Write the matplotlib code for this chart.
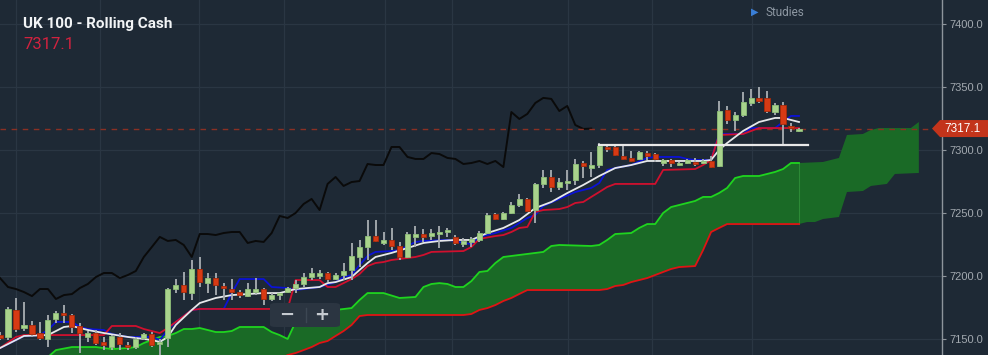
import matplotlib
matplotlib.use("Agg")
import matplotlib.pyplot as plt
from matplotlib.patches import Polygon, FancyBboxPatch
from matplotlib.transforms import blended_transform_factory
import numpy as np

# ---------------- data ----------------
opens = [7153.4,7151.9,7173.3,7159.0,7161.4,7155.0,7150.3,7166.1,7170.9,7169.3,
         7160.6,7151.9,7155.0,7147.9,7143.9,7151.9,7145.5,7143.9,7151.1,7154.2,
         7146.3,7151.1,7189.9,7193.1,7186.7,7205.8,7194.6,7198.6,7192.3,7189.9,
         7187.5,7184.3,7187.5,7189.9,7182.0,7185.1,7187.5,7190.7,7193.9,7199.4,
         7200.2,7202.6,7197.8,7201.0,7205.0,7215.3,7223.2,7231.9,7226.4,7228.8,
         7224.0,7215.3,7231.2,7233.5,7231.9,7233.5,7235.1,7231.2,7225.6,7227.2,
         7228.8,7234.3,7249.4,7245.4,7250.2,7256.5,7261.3,7252.5,7273.2,7278.7,
         7270.8,7274.0,7276.3,7289.8,7285.8,7288.2,7302.5,7302.5,7295.4,7293.8,
         7293.0,7297.7,7296.9,7289.8,7292.2,7288.2,7289.8,7290.6,7289.8,7291.4,
         7287.4,7331.8,7323.9,7327.9,7337.4,7341.4,7341.4,7330.2,7335.8,7319.1,
         7315.2]
highs = [7155.8,7175.6,7182.8,7179.6,7164.6,7163.8,7169.3,7172.5,7177.2,7170.1,
         7163.0,7156.6,7157.4,7151.9,7153.4,7155.0,7147.9,7151.9,7155.0,7155.8,
         7150.3,7190.7,7197.8,7203.4,7212.9,7215.3,7202.6,7202.6,7194.6,7197.8,
         7189.1,7194.6,7198.6,7190.7,7186.7,7186.7,7191.5,7197.0,7202.6,7206.6,
         7205.0,7203.4,7202.6,7210.5,7226.4,7228.8,7244.6,7244.6,7235.1,7238.3,
         7227.2,7235.1,7239.9,7237.5,7237.5,7239.9,7238.3,7232.7,7230.4,7231.2,
         7235.9,7250.2,7250.2,7251.0,7258.9,7265.2,7262.1,7274.0,7284.3,7284.3,
         7277.9,7284.3,7293.0,7291.4,7298.5,7305.6,7304.1,7303.3,7303.3,7299.3,
         7299.3,7299.3,7297.7,7293.0,7293.0,7290.6,7293.0,7293.8,7293.0,7295.4,
         7339.0,7335.0,7330.2,7346.1,7348.5,7350.0,7346.9,7337.4,7338.2,7321.5,
         7317.5]
lows = [7149.5,7149.5,7155.8,7156.6,7151.9,7149.5,7143.9,7163.0,7163.0,7155.0,
        7139.2,7147.9,7145.5,7141.5,7141.5,7141.5,7141.5,7142.3,7149.5,7143.9,
        7137.6,7143.9,7186.7,7181.2,7181.2,7191.5,7186.7,7185.1,7181.2,7181.2,
        7182.8,7183.6,7185.1,7177.2,7180.4,7181.2,7186.7,7186.7,7191.5,7197.0,
        7197.8,7195.4,7197.0,7197.0,7197.0,7207.3,7212.9,7227.2,7224.8,7220.8,
        7212.9,7214.5,7223.2,7227.2,7228.8,7222.4,7231.2,7224.8,7223.2,7223.2,
        7227.2,7233.5,7244.6,7244.6,7249.4,7254.9,7251.0,7242.2,7270.0,7266.8,
        7268.4,7268.4,7272.4,7277.9,7278.7,7285.8,7298.5,7295.4,7292.2,7290.6,
        7292.2,7292.2,7290.6,7287.4,7286.6,7287.4,7289.0,7287.4,7289.0,7285.8,
        7286.6,7320.7,7315.2,7326.3,7335.0,7337.4,7329.4,7327.9,7304.9,7314.4,
        7314.4]
closes = [7151.1,7174.1,7158.2,7161.4,7154.2,7151.1,7165.3,7170.9,7169.3,7159.8,
          7155.0,7155.0,7147.1,7145.5,7152.7,7146.3,7143.9,7150.3,7154.2,7145.5,
          7147.9,7189.9,7193.1,7187.5,7205.8,7195.4,7198.6,7193.1,7190.7,7187.5,
          7185.1,7189.9,7189.9,7182.0,7185.1,7185.5,7190.7,7193.9,7199.4,7202.6,
          7202.6,7197.8,7201.0,7204.2,7216.1,7223.2,7231.9,7228.0,7228.8,7224.0,
          7215.3,7233.5,7233.5,7231.2,7234.3,7235.1,7235.3,7226.4,7228.0,7229.6,
          7234.3,7248.6,7245.4,7250.2,7256.5,7261.3,7251.7,7273.2,7278.7,7270.8,
          7274.7,7275.5,7289.0,7287.4,7288.2,7303.3,7300.9,7296.1,7293.0,7291.4,
          7298.5,7295.4,7293.0,7292.2,7289.8,7289.8,7292.2,7289.0,7291.4,7286.6,
          7331.0,7323.9,7327.9,7338.2,7341.4,7339.0,7331.0,7335.8,7320.7,7317.5,
          7317.1]

# moving average (white)
white_idx = [0,3,6,8,9,11,13,16,19,20,21,22,24,25,27,29,31,33,35,37,40,41,42,44,45,46,47,49,51,53,
             55,57,59,61,63,65,67,69,71,73,75,77,79,81,88,89,90,91,93,95,97,98,100]
white_val = [7143.1,7152.7,7153.4,7159.8,7160.6,7157.4,7155.0,7151.9,7149.5,7147.9,
             7151.9,7161.4,7173.3,7178.8,7182.8,7185.1,7185.9,7186.7,7186.7,7189.9,
             7191.5,7194.6,7195.4,7199.4,7205.0,7210.5,7215.3,7218.5,7222.4,7226.4,
             7228.0,7228.8,7228.8,7234.3,7238.3,7244.6,7254.1,7258.9,7266.0,7272.4,
             7279.5,7285.8,7288.2,7291.4,7291.4,7292.2,7300.1,7305.6,7315.2,7322.3,
             7325.5,7325.5,7322.3]

# conversion line (blue)
tenkan_idx = [0,3,5,6,7,9,10,11,13,14,16,19,20,21,22,23,24,25,28,29,30,33,34,36,37,40,42,43,44,45,
              46,47,49,50,52,53,56,57,58,59,60,62,64,66,67,68,70,72,74,75,76,77,79,81,82,85,86,87,89,90,
              93,94,97,98,99,100]
tenkan_val = [7143.1,7152.7,7153.4,7157.4,7163.8,7163.8,7159.8,7158.2,7157.4,7154.2,
              7151.9,7151.9,7149.5,7157.4,7163.8,7168.5,7173.3,7174.1,7174.1,7186.7,
              7197.8,7197.8,7191.5,7190.7,7189.1,7191.5,7195.4,7199.4,7201.0,7208.9,
              7216.1,7219.3,7220.0,7220.8,7227.2,7228.0,7228.8,7228.0,7226.4,7225.6,
              7231.2,7234.3,7238.3,7246.2,7248.6,7255.7,7261.3,7266.8,7270.0,7273.9,
              7284.3,7285.8,7288.2,7293.8,7294.6,7294.6,7293.0,7292.2,7292.2,7312.8,
              7312.8,7317.5,7317.5,7322.3,7327.1,7327.1]

# base line (crimson)
kijun_idx = [0,2,3,13,14,17,18,19,20,21,22,23,24,25,36,37,40,41,42,43,44,45,46,47,48,49,50,51,52,53,
             54,58,59,60,62,63,64,65,66,67,68,70,71,72,73,74,75,76,77,82,83,87,88,89,90,93,95,100]
kijun_val = [7143.1,7151.9,7153.4,7153.4,7160.6,7160.6,7158.2,7156.6,7155.0,7159.0,
             7163.8,7168.5,7173.3,7174.1,7174.1,7197.0,7197.0,7191.5,7191.5,7194.6,
             7197.8,7201.8,7208.1,7210.5,7211.3,7212.9,7213.7,7214.5,7215.3,7216.9,
             7219.3,7220.0,7223.2,7229.6,7231.9,7232.7,7235.1,7238.3,7239.1,7251.0,
             7252.5,7253.3,7254.9,7258.1,7258.9,7262.9,7266.8,7270.8,7273.2,7273.2,
             7284.3,7285.0,7288.2,7292.2,7312.0,7312.8,7317.5,7317.5]

# lagging span (black), one value per candle from index 0
chikou = [7198.6,7191.5,7189.9,7187.5,7184.3,7189.9,7189.9,7182.0,7185.1,7185.9,
          7190.7,7193.9,7199.4,7202.6,7202.6,7198.6,7201.0,7204.2,7215.3,7223.2,
          7231.2,7228.0,7228.8,7224.8,7215.3,7233.5,7233.5,7232.7,7234.3,7235.1,
          7235.1,7226.4,7228.0,7227.2,7234.3,7247.8,7246.2,7250.2,7257.3,7261.3,
          7252.5,7273.2,7278.7,7271.6,7274.7,7275.5,7289.0,7288.2,7288.2,7302.5,
          7302.5,7294.6,7293.0,7293.0,7297.7,7296.9,7293.8,7293.0,7289.0,7289.8,
          7291.4,7289.0,7291.4,7286.6,7330.2,7324.7,7328.7,7337.4,7341.4,7340.6,
          7331.0,7335.0,7319.9,7316.8,7317.1]

# leading span A (green, cloud top) and leading span B (red, cloud bottom)
span_a_idx = [5,6,7,9,12,13,14,16,17,18,19,20,21,22,23,24,25,26,27,28,29,30,33,34,35,36,37,38,42,44,
              45,46,48,50,52,53,54,55,56,57,58,59,60,61,62,63,64,67,68,69,70,74,75,76,77,79,80,81,82,83,
              84,85,86,87,88,89,90,91,92,93,95,96,97,98,99,100,103,105,106,108,109,110,114,115]
span_a_val = [7133.0,7136.0,7141.5,7143.9,7143.9,7143.1,7142.3,7143.1,7143.9,7147.1,
              7149.5,7151.9,7152.7,7155.0,7158.2,7158.2,7159.0,7157.4,7155.8,7155.8,
              7156.6,7159.8,7159.8,7155.8,7153.4,7150.3,7163.8,7172.5,7173.3,7174.8,
              7181.2,7186.7,7186.7,7182.8,7183.6,7191.5,7193.9,7194.6,7193.9,7191.5,
              7191.5,7196.2,7203.4,7204.2,7210.5,7215.3,7216.1,7218.5,7219.3,7224.0,
              7224.8,7224.0,7224.8,7228.8,7233.5,7234.3,7238.3,7241.4,7241.4,7250.2,
              7254.9,7256.5,7258.1,7259.7,7262.9,7262.9,7266.0,7270.0,7277.9,7279.5,
              7279.5,7281.1,7282.7,7285.0,7289.8,7289.8,7290.6,7293.8,7312.0,7312.8,
              7316.0,7317.5,7317.5,7322.3]
span_b_idx = [5,34,35,36,37,38,39,40,41,42,43,44,45,46,58,59,60,61,62,63,
              64,65,66,75,76,77,78,79,80,81,82,83,84,85,87,88,89,90,91,100,
              101,102,103,105,106,108,109,111,112,115]
span_b_val = [7120.0,7120.0,7134.0,7137.6,7139.2,7141.5,7143.9,7147.1,7148.7,7152.7,
              7156.6,7161.4,7168.5,7169.3,7169.3,7170.1,7173.3,7174.8,7177.2,7180.4,
              7182.8,7186.0,7189.1,7189.1,7189.9,7192.3,7193.1,7195.4,7197.0,7198.6,
              7201.0,7203.4,7205.8,7207.3,7208.1,7220.8,7235.1,7238.3,7241.4,7241.4,
              7243.0,7243.0,7245.4,7247.0,7266.8,7267.6,7271.6,7273.2,7281.1,7281.9]

last_price = 7317.1
support_level = 7304.1
support_from, support_to = 75, 101.1
y_ticks = [7150, 7200, 7250, 7300, 7350, 7400]
vgrid_pos = [2.0, 12.5, 24.9, 35.5, 48.2, 56.6, 71.1, 81.6, 94.1]
title = "UK 100 - Rolling Cash"

# ---------------- drawing ----------------
W, H = 988, 355
BG = '#1e2935'
fig = plt.figure(figsize=(W / 100, H / 100), dpi=100)
fig.patch.set_facecolor(BG)
ax = fig.add_axes([0, 0, 942 / W, 1])
ax.set_facecolor(BG)
ax.set_xlim(0, 942 / 7.99)
ax.set_ylim(7137.6, 7419.0)

for s in ['top', 'left', 'bottom']:
    ax.spines[s].set_visible(False)
ax.spines['right'].set_color('#8e959c')
ax.spines['right'].set_linewidth(1.0)
ax.yaxis.tick_right()
ax.set_yticks(y_ticks)
ax.set_yticklabels([f"{t:.1f}" for t in y_ticks])
ax.tick_params(axis='y', colors='#8e959c', labelcolor='#a3a9b0', length=3, width=0.8,
               pad=2.5, labelsize=8)
for lab in ax.get_yticklabels():
    lab.set_family('Liberation Sans')
ax.set_xticks([])
for t in y_ticks:
    ax.axhline(t, color='#2a3643', lw=0.9, zorder=0.5)
for xv in vgrid_pos:
    ax.axvline(xv, color='#2a3643', lw=0.9, zorder=0.5)

# cloud
cloud_pts = list(zip(span_a_idx, span_a_val)) + list(zip(span_b_idx[::-1], span_b_val[::-1]))
ax.add_patch(Polygon(cloud_pts, closed=True, facecolor='#1a6a26', edgecolor='none', zorder=1))
a_idx = np.array(span_a_idx); a_val = np.array(span_a_val)
b_idx = np.array(span_b_idx); b_val = np.array(span_b_val)
ma = a_idx <= 100; mb = b_idx <= 100
ax.plot(a_idx[ma], a_val[ma], color='#1fd41f', lw=1.3, zorder=2)
ax.plot(b_idx[mb], b_val[mb], color='#e01414', lw=1.3, zorder=2)
ax.plot([100, 100], [b_val[mb][-1], a_val[ma][-1]], color='#2c8a36', lw=0.8, zorder=1.5)

# lagging span
ax.plot(np.arange(len(chikou)), chikou, color='#0a0a0a', lw=1.4, zorder=2)

# price dashed line
ax.axhline(last_price, color='#8a3024', lw=1.0, dashes=(4, 4), zorder=2.5)

# indicator lines
ax.plot(tenkan_idx, tenkan_val, color='#0b12d6', lw=1.3, zorder=3)
ax.plot(kijun_idx, kijun_val, color='#d0102e', lw=1.3, zorder=3.1)
ax.plot(white_idx, white_val, color='#e6e8ea', lw=1.3, zorder=3.2)

# candles
x = np.arange(len(opens))
o = np.array(opens); c = np.array(closes); hi = np.array(highs); lo = np.array(lows)
up = c >= o
ax.vlines(x, lo, hi, color='#a9aeb3', lw=1.3, zorder=4)
bot = np.minimum(o, c)
hgt = np.maximum(np.abs(c - o), 1.3)
ax.bar(x[up], hgt[up], bottom=bot[up], width=0.64, color='#a9d38c', edgecolor='#8fbf78',
       lw=0.6, zorder=5)
ax.bar(x[~up], hgt[~up], bottom=bot[~up], width=0.64, color='#d73a14', edgecolor='#a82a0a',
       lw=0.6, zorder=5)

# support line
ax.plot([support_from, support_to], [support_level, support_level], color='#e8e8e8', lw=1.6,
        zorder=6)

# price tag on axis
tr = blended_transform_factory(ax.transAxes, ax.transData)
hh = 8.5 / 1.2613
x0 = 932 / 942; x1 = 940 / 942; x2 = 988 / 942
tag = Polygon([(x0, last_price), (x1, last_price + hh), (x2, last_price + hh),
               (x2, last_price - hh), (x1, last_price - hh)], closed=True,
              facecolor='#c3341b', edgecolor='none', transform=tr, clip_on=False, zorder=10)
ax.add_artist(tag)
ax.text(962 / 942, last_price, f"{last_price:.1f}", transform=tr, color='white', fontsize=8.5,
        family='Liberation Sans', ha='center', va='center', zorder=11, clip_on=False)

# header texts
def fx(px):
    return px / W
def fy(py):
    return 1 - py / H
fig.text(fx(23), fy(28), title, color='#f2f4f6', fontsize=11, fontweight='bold',
         family='Roboto', va='baseline', ha='left')
fig.text(fx(23), fy(49), f"{last_price:.1f}", color='#d2223f', fontsize=12,
         family='Roboto', va='baseline', ha='left')
fig.text(fx(751), fy(12), "\u25B6", color='#3a7fd8', fontsize=7, va='center', ha='left',
         family='DejaVu Sans')
fig.text(fx(765), fy(12), "Studies", color='#8d97a2', fontsize=8.5, va='center', ha='left',
         family='Roboto')

# zoom buttons overlay
btn = FancyBboxPatch((fx(270), fy(327)), fx(340) - fx(270), fy(303) - fy(327),
                     boxstyle='round,pad=0,rounding_size=0.006', transform=fig.transFigure,
                     facecolor='#2b3541', edgecolor='none', zorder=20)
fig.patches.append(btn)
fig.add_artist(plt.Line2D([fx(305.5), fx(305.5)], [fy(322), fy(308)], color='#3c4753', lw=1,
                          transform=fig.transFigure, zorder=21))
fig.text(fx(287), fy(315), "\u2212", color='#c5cad0', fontsize=13, fontweight='bold',
         ha='center', va='center', zorder=22)
fig.text(fx(322), fy(315), "+", color='#c5cad0', fontsize=13, fontweight='bold',
         ha='center', va='center', zorder=22)

fig.savefig('out.png', dpi=100, facecolor=BG)
